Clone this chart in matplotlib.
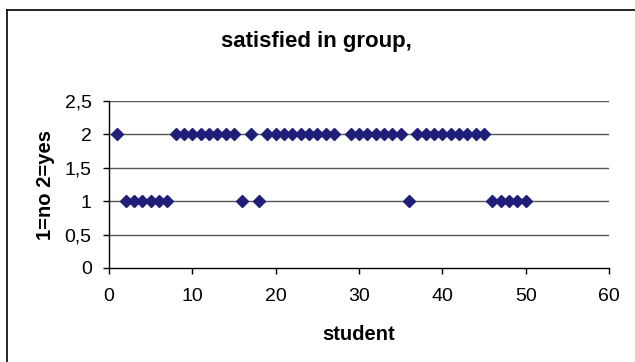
import numpy as np
import matplotlib.pyplot as plt
from matplotlib.lines import Line2D

# answers per student: 1 = no, 2 = yes (student 28 did not answer)
student = [1, 2, 3, 4, 5, 6, 7, 8, 9, 10, 11, 12, 13, 14, 15, 16, 17, 18, 19, 20,
           21, 22, 23, 24, 25, 26, 27, 29, 30, 31, 32, 33, 34, 35, 36, 37, 38, 39, 40,
           41, 42, 43, 44, 45, 46, 47, 48, 49, 50]
answer = [2, 1, 1, 1, 1, 1, 1, 2, 2, 2, 2, 2, 2, 2, 2, 1, 2, 1, 2, 2,
          2, 2, 2, 2, 2, 2, 2, 2, 2, 2, 2, 2, 2, 2, 1, 2, 2, 2, 2,
          2, 2, 2, 2, 2, 1, 1, 1, 1, 1]

xticks = [0, 10, 20, 30, 40, 50, 60]
yticks = [0, 0.5, 1, 1.5, 2, 2.5]

plt.rcParams['font.family'] = ['Liberation Sans', 'DejaVu Sans']

fig = plt.figure(figsize=(6.35, 3.62), dpi=100)
W, H = 635, 362
ax = fig.add_axes([109 / W, 1 - 268 / H, 500 / W, 167 / H])

ax.plot(student, answer, linestyle='none', marker='D', ms=6.2,
        color='#1f1f7a', mec='#1f1f7a', zorder=3, clip_on=False)

ax.set_xlim(0, 60)
ax.set_ylim(0, 2.5)
ax.set_xticks(xticks)
ax.set_yticks(yticks)
ax.set_xticklabels([str(v) for v in xticks], fontsize=14)
ax.set_yticklabels([('%g' % v).replace('.', ',') for v in yticks], fontsize=14)

for v in yticks[1:]:
    ax.axhline(v, color='#555555', lw=1.0, zorder=1)

for s in ['top', 'right']:
    ax.spines[s].set_visible(False)
for s in ['left', 'bottom']:
    ax.spines[s].set_color('black')
    ax.spines[s].set_linewidth(1.0)
ax.tick_params(axis='both', direction='out', length=4.5, width=1, colors='black')
ax.tick_params(axis='x', pad=10)
ax.tick_params(axis='y', pad=8)

fig.text(316 / W, 1 - 41 / H, 'satisfied in group,', fontsize=16, fontweight='bold',
         ha='center', va='center')
ax.set_xlabel('student', fontsize=14.5, fontweight='bold', labelpad=14)
ax.set_ylabel('1=no 2=yes', fontsize=14.5, fontweight='bold', labelpad=7)

# chart-area frame (top and left edges)
fig.add_artist(Line2D([7 / W, 7 / W], [0, 1 - 10 / H], transform=fig.transFigure,
                      color='black', lw=1.2))
fig.add_artist(Line2D([7 / W, 1], [1 - 10 / H, 1 - 10 / H], transform=fig.transFigure,
                      color='black', lw=1.2))

fig.savefig('out.png', dpi=100)
